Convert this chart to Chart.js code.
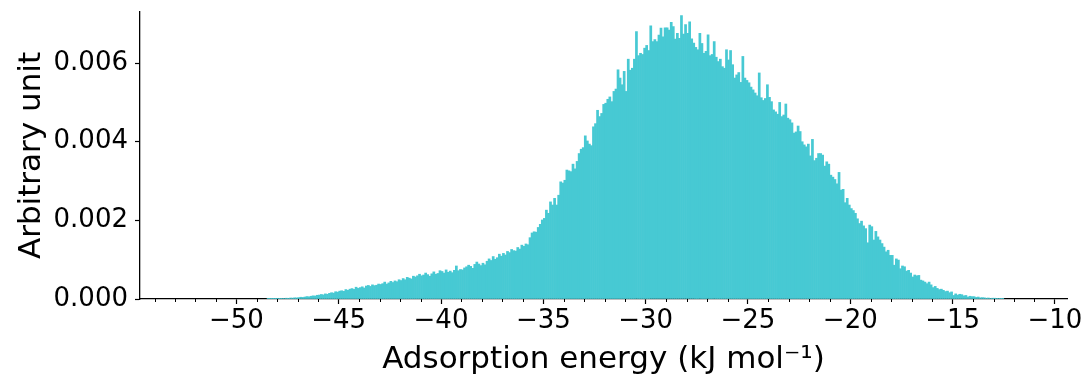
<!DOCTYPE html>
<html>
<head>
<meta charset="utf-8">
<script src="https://cdn.jsdelivr.net/npm/chart.js@4/dist/chart.umd.min.js"></script>
<style>
  html, body { margin: 0; padding: 0; background: #fff; }
  #wrap { width: 1084px; height: 379px; }
</style>
</head>
<body>
<div id="wrap"><canvas id="hist"></canvas></div>
<script>
// histogram bins (kJ/mol), heights in units of 1e-4
const binStart = -48.5
const binWidth = 0.1
const density = [
  0.02, 0.05, 0.03, 0.08, 0.06,
  0.1, 0.08, 0.15, 0.12, 0.2, 0.18, 0.25, 0.22, 0.3, 0.28,          // -48
  0.35, 0.45, 0.4, 0.5, 0.62, 0.55, 0.7, 0.8, 0.75, 0.95,           // -47
  1.0, 1.15, 1.05, 1.3, 1.2, 1.45, 1.6, 1.5, 1.85, 1.75,            // -46
  2.0, 2.1, 1.95, 2.4, 2.2, 2.5, 2.65, 2.45, 3.0, 2.7,              // -45
  2.9, 3.1, 2.8, 3.3, 3.45, 3.2, 3.6, 3.4, 3.5, 3.8,                // -44
  3.7, 3.9, 4.3, 3.8, 4.1, 4.5, 4.2, 4.6, 4.4, 4.9,                 // -43
  4.7, 5.2, 4.9, 5.5, 5.3, 5.1, 5.8, 5.6, 5.9, 6.3,                 // -42
  5.9, 6.1, 6.6, 6.2, 5.8, 6.4, 6.9, 6.3, 6.5, 7.2,                 // -41
  7.0, 6.6, 7.4, 6.8, 7.1, 6.7, 7.3, 8.4, 7.2, 7.5,                 // -40
  7.4, 7.9, 8.2, 8.6, 8.3, 7.8, 8.8, 9.4, 8.9, 8.5,                 // -39
  9.1, 8.7, 9.6, 10.2, 9.8, 10.8, 10.1, 10.5, 11.4, 10.9,           // -38
  11.6, 11.2, 12.1, 11.8, 12.6, 12.3, 12.2, 13.1, 12.7, 13.7,       // -37
  13.4, 14.0, 13.8, 15.6, 16.8, 17.1, 17.0, 18.2, 19.0, 20.1,       // -36
  20.5, 22.6, 21.8, 24.7, 23.9, 25.6, 23.9, 26.4, 29.8, 29.5,       // -35
  30.2, 32.8, 32.6, 32.4, 34.3, 33.1, 35.0, 37.0, 38.1, 38.5,       // -34
  41.5, 40.2, 39.4, 39.0, 43.8, 44.6, 48.0, 46.4, 47.2, 49.5,       // -33
  49.8, 50.8, 51.4, 50.2, 52.8, 53.4, 58.3, 56.2, 54.5, 57.9,       // -32
  52.8, 61.0, 58.2, 58.7, 61.0, 68.0, 61.9, 62.5, 62.2, 63.8,       // -31
  64.5, 63.2, 69.5, 65.5, 66.0, 65.5, 67.1, 68.9, 66.7, 69.0,       // -30
  69.0, 68.4, 70.4, 69.3, 66.1, 67.6, 66.3, 72.1, 67.4, 69.8,       // -29
  67.6, 70.5, 66.2, 65.1, 64.0, 63.4, 67.6, 65.0, 62.5, 63.0,       // -28
  67.2, 61.9, 62.2, 65.5, 61.5, 60.4, 61.0, 59.1, 58.7, 63.4,       // -27
  60.8, 63.2, 59.6, 56.2, 57.0, 57.6, 55.1, 61.7, 56.2, 55.6,       // -26
  55.0, 53.9, 53.2, 52.4, 51.7, 57.5, 51.2, 50.5, 51.0, 54.5,       // -25
  51.3, 50.2, 48.1, 47.6, 47.0, 50.0, 46.4, 46.8, 49.6, 46.0,       // -24
  45.6, 44.8, 42.2, 42.5, 44.0, 42.6, 40.0, 39.2, 38.7, 39.4,       // -23
  36.4, 40.6, 35.2, 35.8, 37.0, 37.0, 36.6, 33.8, 34.9, 34.3,       // -22
  31.5, 31.0, 30.4, 29.3, 32.2, 27.7, 27.9, 24.5, 25.6, 23.9,       // -21
  23.0, 22.5, 21.8, 20.4, 19.2, 19.8, 18.6, 17.9, 14.3, 18.8,       // -20
  18.4, 15.0, 17.2, 15.8, 15.0, 14.1, 13.2, 12.0, 12.4, 11.1,       // -19
  11.1, 8.6, 10.2, 9.9, 7.7, 8.4, 8.2, 7.1, 7.3, 6.6,               // -18
  5.6, 6.1, 5.9, 6.0, 4.8, 4.6, 4.3, 3.9, 4.3, 3.6,                 // -17
  2.9, 3.2, 2.7, 2.4, 2.5, 2.2, 1.9, 2.0, 1.6, 1.8,                 // -16
  0.9, 1.3, 1.0, 1.2, 1.1, 0.8, 0.9, 0.5, 0.7, 0.6,                 // -15
  0.6, 0.4, 0.5, 0.3, 0.35, 0.3, 0.2, 0.25, 0.15, 0.2,              // -14
  0.2, 0.1, 0.12, 0.08, 0.05                                        // -13
]
const xMajorTicks = [-50, -45, -40, -35, -30, -25, -20, -15, -10]
const xMinorTicks = [-54, -53, -52, -51, -49, -48, -47, -46, -44, -43, -42, -41, -39, -38, -37, -36,
  -34, -33, -32, -31, -29, -28, -27, -26, -24, -23, -22, -21, -19, -18, -17, -16, -14, -13, -12, -11]
const yTicks = [0, 0.002, 0.004, 0.006]

let points = density.map((d, i) => ({ x: binStart + binWidth * (i + 0.5), y: d * 1e-4 }))

const minorTickPlugin = {
    id: 'minorTicks',
    afterDraw(chart) {
        const sx = chart.scales.x
        const c = chart.ctx
        c.save()
        c.strokeStyle = '#000'
        c.lineWidth = 1
        xMinorTicks.forEach(v => {
            const px = Math.round(sx.getPixelForValue(v)) + 0.5
            c.beginPath()
            c.moveTo(px, sx.top)
            c.lineTo(px, sx.top + 3)
            c.stroke()
        })
        c.restore()
    }
}

const font = 'DejaVu Sans'

new Chart(document.getElementById('hist').getContext('2d'), {
    type: 'bar',
    data: {
        datasets: [{
            data: points,
            backgroundColor: 'rgb(71, 201, 211)',
            borderWidth: 0,
            barPercentage: 1,
            categoryPercentage: 1
        }]
    },
    options: {
        responsive: true,
        maintainAspectRatio: false,
        animation: false,
        devicePixelRatio: 1,
        layout: { padding: { top: 12, right: 17, left: 0, bottom: 0 } },
        plugins: { legend: { display: false }, tooltip: { enabled: false } },
        scales: {
            x: {
                type: 'linear',
                min: -54.71,
                max: -9.41,
                offset: false,
                afterBuildTicks: s => { s.ticks = xMajorTicks.map(v => ({ value: v })) },
                afterFit: s => { s.height = 80; s.paddingLeft = 0; s.paddingRight = 0 },
                grid: { offset: false, drawOnChartArea: false, tickLength: 5, tickColor: '#000', tickWidth: 1.2 },
                border: { color: '#000', width: 1.3 },
                ticks: {
                    color: '#000',
                    font: { family: font, size: 26 },
                    padding: 2,
                    maxRotation: 0,
                    autoSkip: false,
                    callback: v => (v < 0 ? '\u2212' : '') + Math.abs(v)
                },
                title: {
                    display: true,
                    text: 'Adsorption energy (kJ mol\u207B\u00B9)',
                    color: '#000',
                    font: { family: font, size: 31 },
                    padding: { top: 0, bottom: 0 }
                }
            },
            y: {
                min: 0,
                max: 0.0073,
                afterBuildTicks: s => { s.ticks = yTicks.map(v => ({ value: v })) },
                afterFit: s => { s.width = 140; s.paddingTop = 0; s.paddingBottom = 0 },
                grid: { drawOnChartArea: false, tickLength: 5, tickColor: '#000', tickWidth: 1.2 },
                border: { color: '#000', width: 1.3 },
                ticks: {
                    color: '#000',
                    font: { family: font, size: 26 },
                    padding: 7,
                    callback: v => v.toFixed(3)
                },
                title: {
                    display: true,
                    text: 'Arbitrary unit',
                    color: '#000',
                    font: { family: font, size: 31 },
                    padding: { top: 13, bottom: 0 }
                }
            }
        }
    },
    plugins: [minorTickPlugin]
})
</script>
</body>
</html>
